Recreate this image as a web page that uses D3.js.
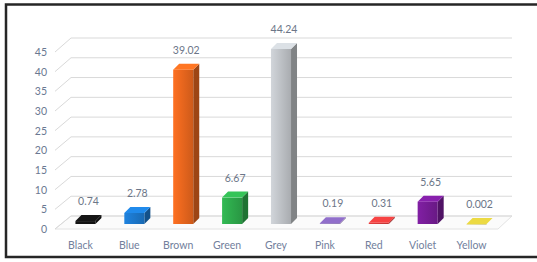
<!DOCTYPE html>
<html>
<head>
<meta charset="utf-8">
<script src="https://cdn.jsdelivr.net/npm/d3@7"></script>
<style>
  body { margin: 0; background: #fff; }
  svg { display: block; font-family: Lato, "Open Sans", sans-serif; }
</style>
</head>
<body>
<svg id="chart" width="537" height="262"></svg>
<script>
// data
var categories = ['Black', 'Blue', 'Brown', 'Green', 'Grey', 'Pink', 'Red', 'Violet', 'Yellow']
var values = [0.74, 2.78, 39.02, 6.67, 44.24, 0.19, 0.31, 5.65, 0.002]
var value_labels = ['0.74', '2.78', '39.02', '6.67', '44.24', '0.19', '0.31', '5.65', '0.002']
var bar_colors = ['#121212', '#1c78cc', '#e8661e', '#2eaa4c', '#bfc3c7', '#7e60b0', '#d63a3a', '#761c96', '#cdbd3a']
var y_ticks = [0, 5, 10, 15, 20, 25, 30, 35, 40, 45]

var svg = d3.select('#chart')

// frame
svg.append('rect')
  .attr('x', 6).attr('y', 4.5)
  .attr('width', 540).attr('height', 252.5)
  .attr('fill', 'none')
  .attr('stroke', '#262626')
  .attr('stroke-width', 2.5)

// scales: front edge of the left wall, back wall, and bar front plane
var y_front = d3.scaleLinear().domain([0, 45]).range([229, 52])
var y_back = d3.scaleLinear().domain([0, 45]).range([216, 38])
var y_bar = d3.scaleLinear().domain([0, 45]).range([224, 46])
var x = d3.scaleBand().domain(categories).range([61, 501])
  .paddingInner(0.59).paddingOuter(0.295)

var wall_left = 55, wall_back = 71, wall_right = 512
var depth_x = 6, depth_y = 6

// floor
var floor = svg.append('g')
floor.append('path')
  .attr('d', 'M' + wall_left + ',' + y_front(0) + 'L' + wall_back + ',' + y_back(0) +
    'L' + wall_right + ',' + y_back(0) + 'L' + (wall_right - 14) + ',' + y_front(0) + 'Z')
  .attr('fill', '#fbfbfb')
  .attr('stroke', '#e2e2e2')

// grid lines, back wall and left wall
var grid = svg.append('g')
grid.selectAll('.back')
  .data(y_ticks)
  .enter().append('line')
  .attr('x1', wall_back).attr('x2', wall_right)
  .attr('y1', function(d) { return y_back(d) })
  .attr('y2', function(d) { return y_back(d) })
  .attr('stroke', '#d9d9d9')
grid.selectAll('.side')
  .data(y_ticks)
  .enter().append('line')
  .attr('x1', wall_left).attr('x2', wall_back)
  .attr('y1', function(d) { return y_front(d) })
  .attr('y2', function(d) { return y_back(d) })
  .attr('stroke', '#d9d9d9')

// y axis labels
var axis = svg.append('g')
  .attr('transform', 'translate(47,0)')
  .call(d3.axisLeft(y_front).tickValues(y_ticks).tickSize(0).tickPadding(0))
axis.select('.domain').remove()
axis.selectAll('text')
  .attr('fill', '#6a7892')
  .attr('font-size', 10.5)
  .attr('font-family', 'Lato, "Open Sans", sans-serif')

// bars
var defs = svg.append('defs')
bar_colors.forEach(function(c, i) {
  var g = defs.append('linearGradient').attr('id', 'grad' + i)
    .attr('x1', 0).attr('x2', 1).attr('y1', 0).attr('y2', 0)
  g.append('stop').attr('offset', 0).attr('stop-color', d3.color(c).brighter(0.25))
  g.append('stop').attr('offset', 1).attr('stop-color', d3.color(c).darker(0.35))
})

var w = x.bandwidth()
var bars = svg.append('g').selectAll('g')
  .data(categories)
  .enter().append('g')

bars.each(function(d, i) {
  var g = d3.select(this)
  var x0 = x(d)
  var yt = y_bar(values[i])
  var yb = y_bar(0)
  var c = bar_colors[i]
  // side
  g.append('path')
    .attr('d', 'M' + (x0 + w) + ',' + yt + 'L' + (x0 + w + depth_x) + ',' + (yt - depth_y) +
      'L' + (x0 + w + depth_x) + ',' + (yb - depth_y) + 'L' + (x0 + w) + ',' + yb + 'Z')
    .attr('fill', d3.color(c).darker(1.1))
  // front
  g.append('rect')
    .attr('x', x0).attr('y', yt)
    .attr('width', w).attr('height', Math.max(yb - yt, 0.5))
    .attr('fill', 'url(#grad' + i + ')')
  // top
  g.append('path')
    .attr('d', 'M' + x0 + ',' + yt + 'L' + (x0 + depth_x) + ',' + (yt - depth_y) +
      'L' + (x0 + w + depth_x) + ',' + (yt - depth_y) + 'L' + (x0 + w) + ',' + yt + 'Z')
    .attr('fill', d3.color(c).brighter(0.4))
})

// value labels
svg.append('g').selectAll('text')
  .data(categories)
  .enter().append('text')
  .attr('x', function(d) { return x(d) + w / 2 + depth_x / 2 })
  .attr('y', function(d, i) { return y_bar(values[i]) - 16 })
  .attr('text-anchor', 'middle')
  .attr('font-size', 10.5)
  .attr('fill', '#6c7688')
  .text(function(d, i) { return value_labels[i] })

// category labels
svg.append('g').selectAll('text')
  .data(categories)
  .enter().append('text')
  .attr('x', function(d) { return x(d) + w / 2 - 5 })
  .attr('y', 248.5)
  .attr('text-anchor', 'middle')
  .attr('font-size', 10.5)
  .attr('fill', '#72809c')
  .text(function(d) { return d })
</script>
</body>
</html>
